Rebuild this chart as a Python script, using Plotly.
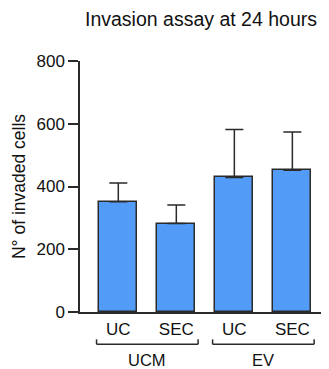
import plotly.graph_objects as go

categories = ["UC", "SEC", "UC", "SEC"]
groups = ["UCM", "EV"]
means = [351, 282, 429, 452]
err_plus = [60, 59, 153, 122]
y_ticks = [0, 200, 400, 600, 800]

FONT = "Liberation Sans, Arial, sans-serif"
BAR_COLOR = "#529CF7"
x_pos = list(range(len(categories)))

W, H = 321, 361  # page body has an 8px margin

fig = go.Figure()
fig.add_trace(go.Bar(
    x=x_pos, y=means, width=0.655,
    marker=dict(color=BAR_COLOR, line=dict(color="#2a2a2a", width=1.5)),
    error_y=dict(type="data", array=err_plus, arrayminus=[0]*4, symmetric=False,
                 color="#2a2a2a", thickness=1.5, width=9),
    showlegend=False,
))

# group brackets
group_spans = [(-0.375, 1.375), (1.625, 3.375)]
y_br = -0.1287
y_tip = -0.109
for (x0, x1), g in zip(group_spans, groups):
    fig.add_shape(type="line", xref="x", yref="paper", x0=x0, x1=x1, y0=y_br, y1=y_br,
                  line=dict(color="#2a2a2a", width=1.5))
    for xx in (x0, x1):
        fig.add_shape(type="line", xref="x", yref="paper", x0=xx, x1=xx, y0=y_br, y1=y_tip,
                      line=dict(color="#2a2a2a", width=1.5))
    fig.add_annotation(x=(x0 + x1) / 2, y=-0.192, xref="x", yref="paper", text=g,
                       showarrow=False, yanchor="middle",
                       font=dict(family=FONT, size=16.5, color="#111"))

fig.update_layout(
    width=W, height=H,
    margin=dict(l=72, r=1, t=53, b=57),
    paper_bgcolor="white", plot_bgcolor="white",
    font=dict(family=FONT, size=17, color="#111"),
    title=dict(text="Invasion assay at 24 hours", xref="container", yref="container",
               x=193 / W, y=1 - 11 / H, xanchor="center", yanchor="middle",
               font=dict(family=FONT, size=19.5, color="#111")),
    bargap=0,
)
fig.update_xaxes(
    range=[-0.66, 3.614], tickmode="array", tickvals=x_pos, ticktext=categories,
    showline=True, linecolor="#2a2a2a", linewidth=1.5,
    ticks="outside", ticklen=1, tickcolor="rgba(0,0,0,0)",
    showgrid=False, zeroline=False, fixedrange=True,
)
fig.update_yaxes(
    range=[0, 800], tickmode="array", tickvals=y_ticks,
    showline=True, linecolor="#2a2a2a", linewidth=1.5,
    ticks="outside", ticklen=10, tickwidth=1.5, tickcolor="#2a2a2a",
    showgrid=False, zeroline=False,
    title=dict(text="N° of invaded cells", standoff=6, font=dict(family=FONT, size=17.5)),
)

fig.write_html("out.html")
